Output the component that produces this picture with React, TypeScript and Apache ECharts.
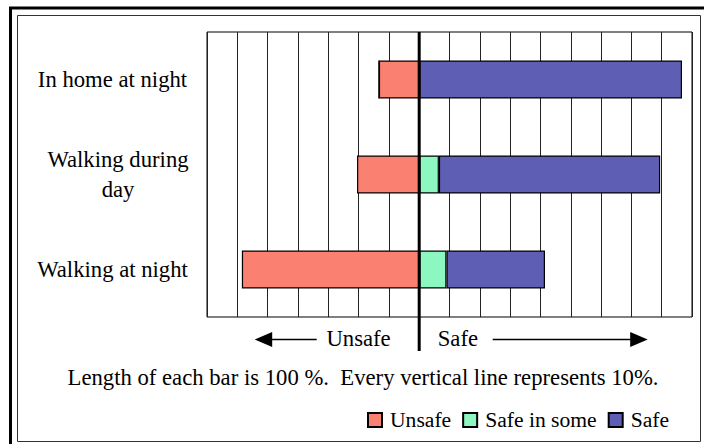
import React, { useEffect, useRef } from "react";
import * as echarts from "echarts";

const categories = ["In home at night", "Walking during\nday", "Walking at night"];
const unsafeValues = [-13.3, -20.5, -58.5];
const safeInSomeValues = [0, 6.5, 9];
const safeValues = [86.7, 73, 32.5];
const seriesNames = ["Unsafe", "Safe in some", "Safe"];

const FONT = "'Liberation Serif', 'Times New Roman', serif";
const FS = 22.7;
const GRID_LEFT = 207;
const GRID_TOP = 32;
const GRID_W = 485;
const GRID_H = 285;

export default function App() {
  const ref = useRef<HTMLDivElement>(null);
  useEffect(() => {
    const chart = echarts.init(ref.current!, null, { renderer: "svg" });
    const labelStyle = { fontSize: FS, fontFamily: FONT, color: "#000" };
    chart.setOption({
      animation: false,
      backgroundColor: "#fff",
      textStyle: { fontFamily: FONT },
      grid: {
        left: GRID_LEFT,
        top: GRID_TOP,
        width: GRID_W,
        height: GRID_H,
        show: true,
        borderColor: "#000",
        borderWidth: 1,
        backgroundColor: "#fff",
      },
      legend: {
        data: seriesNames,
        left: 362,
        top: 404,
        itemWidth: 14,
        itemHeight: 14,
        itemGap: 11,
        icon: "rect",
        textStyle: { ...labelStyle, fontSize: 21.6, lineHeight: 22, padding: [0, 0, 0, 3] },
      },
      xAxis: {
        type: "value",
        min: -70,
        max: 90,
        interval: 10,
        axisLabel: { show: false },
        axisTick: { show: false },
        axisLine: { show: false },
        splitLine: { show: true, lineStyle: { color: "#222", width: 1 } },
      },
      yAxis: {
        type: "category",
        data: categories,
        inverse: true,
        axisTick: { show: false },
        axisLine: { show: false },
        axisLabel: {
          interval: 0,
          align: "center",
          margin: GRID_LEFT - 112.5,
          formatter: (v: string) => (v.indexOf("\n") >= 0 ? `{b|${v}}` : `{a|${v}}`),
          rich: {
            a: { ...labelStyle },
            b: { ...labelStyle, lineHeight: 30, padding: [0, 0, 0, 11] },
          },
        },
      },
      series: [
        { name: seriesNames[0], data: unsafeValues, color: "#FA8072" },
        { name: seriesNames[1], data: safeInSomeValues, color: "#8CF7C0" },
        { name: seriesNames[2], data: safeValues, color: "#5E5EB4" },
      ].map((s) => ({
        ...s,
        type: "bar",
        stack: "total",
        barWidth: "40%",
        itemStyle: { color: s.color, borderColor: "#000", borderWidth: 1.2 },
        emphasis: { disabled: true },
      })),
    });

    const x0 = chart.convertToPixel({ xAxisIndex: 0 }, 0) as number;
    const arrowY = 339.5;
    const textStyle = (text: string, align: string) => ({
      text,
      fontSize: FS,
      fontFamily: FONT,
      fill: "#000",
      textAlign: align,
      textVerticalAlign: "middle",
    });
    chart.setOption({
      graphic: [
        {
          type: "rect",
          shape: { x: 17.5, y: 15.5, width: 683, height: 426 },
          style: { fill: "none", stroke: "#333", lineWidth: 1 },
          silent: true,
        },
        {
          type: "polyline",
          shape: { points: [[10.5, 444], [10.5, 8], [704, 8]] },
          style: { fill: "none", stroke: "#000", lineWidth: 3 },
          silent: true,
        },
        {
          type: "line",
          shape: { x1: x0, y1: GRID_TOP, x2: x0, y2: 351 },
          style: { stroke: "#000", lineWidth: 3 },
          z: 100,
          silent: true,
        },
        {
          type: "line",
          shape: { x1: x0 - 150, y1: arrowY, x2: x0 - 102.5, y2: arrowY },
          style: { stroke: "#000", lineWidth: 1.5 },
          silent: true,
        },
        {
          type: "polygon",
          shape: { points: [[x0 - 164.5, arrowY], [x0 - 147, arrowY - 7.5], [x0 - 147, arrowY + 7.5]] },
          style: { fill: "#000" },
          silent: true,
        },
        {
          type: "line",
          shape: { x1: x0 + 73.5, y1: arrowY, x2: x0 + 214, y2: arrowY },
          style: { stroke: "#000", lineWidth: 1.5 },
          silent: true,
        },
        {
          type: "polygon",
          shape: { points: [[x0 + 228.5, arrowY], [x0 + 211, arrowY - 7.5], [x0 + 211, arrowY + 7.5]] },
          style: { fill: "#000" },
          silent: true,
        },
        { type: "text", x: x0 - 28.5, y: 338, style: textStyle("Unsafe", "right"), silent: true },
        { type: "text", x: x0 + 18.5, y: 338, style: textStyle("Safe", "left"), silent: true },
        {
          type: "text",
          x: 363,
          y: 377,
          style: textStyle("Length of each bar is 100 %.  Every vertical line represents 10%.", "center"),
          silent: true,
        },
      ],
    });
    return () => chart.dispose();
  }, []);
  return (
    <div
      ref={ref}
      style={{ position: "fixed", left: 0, top: 0, width: 704, height: 444 }}
    />
  );
}
